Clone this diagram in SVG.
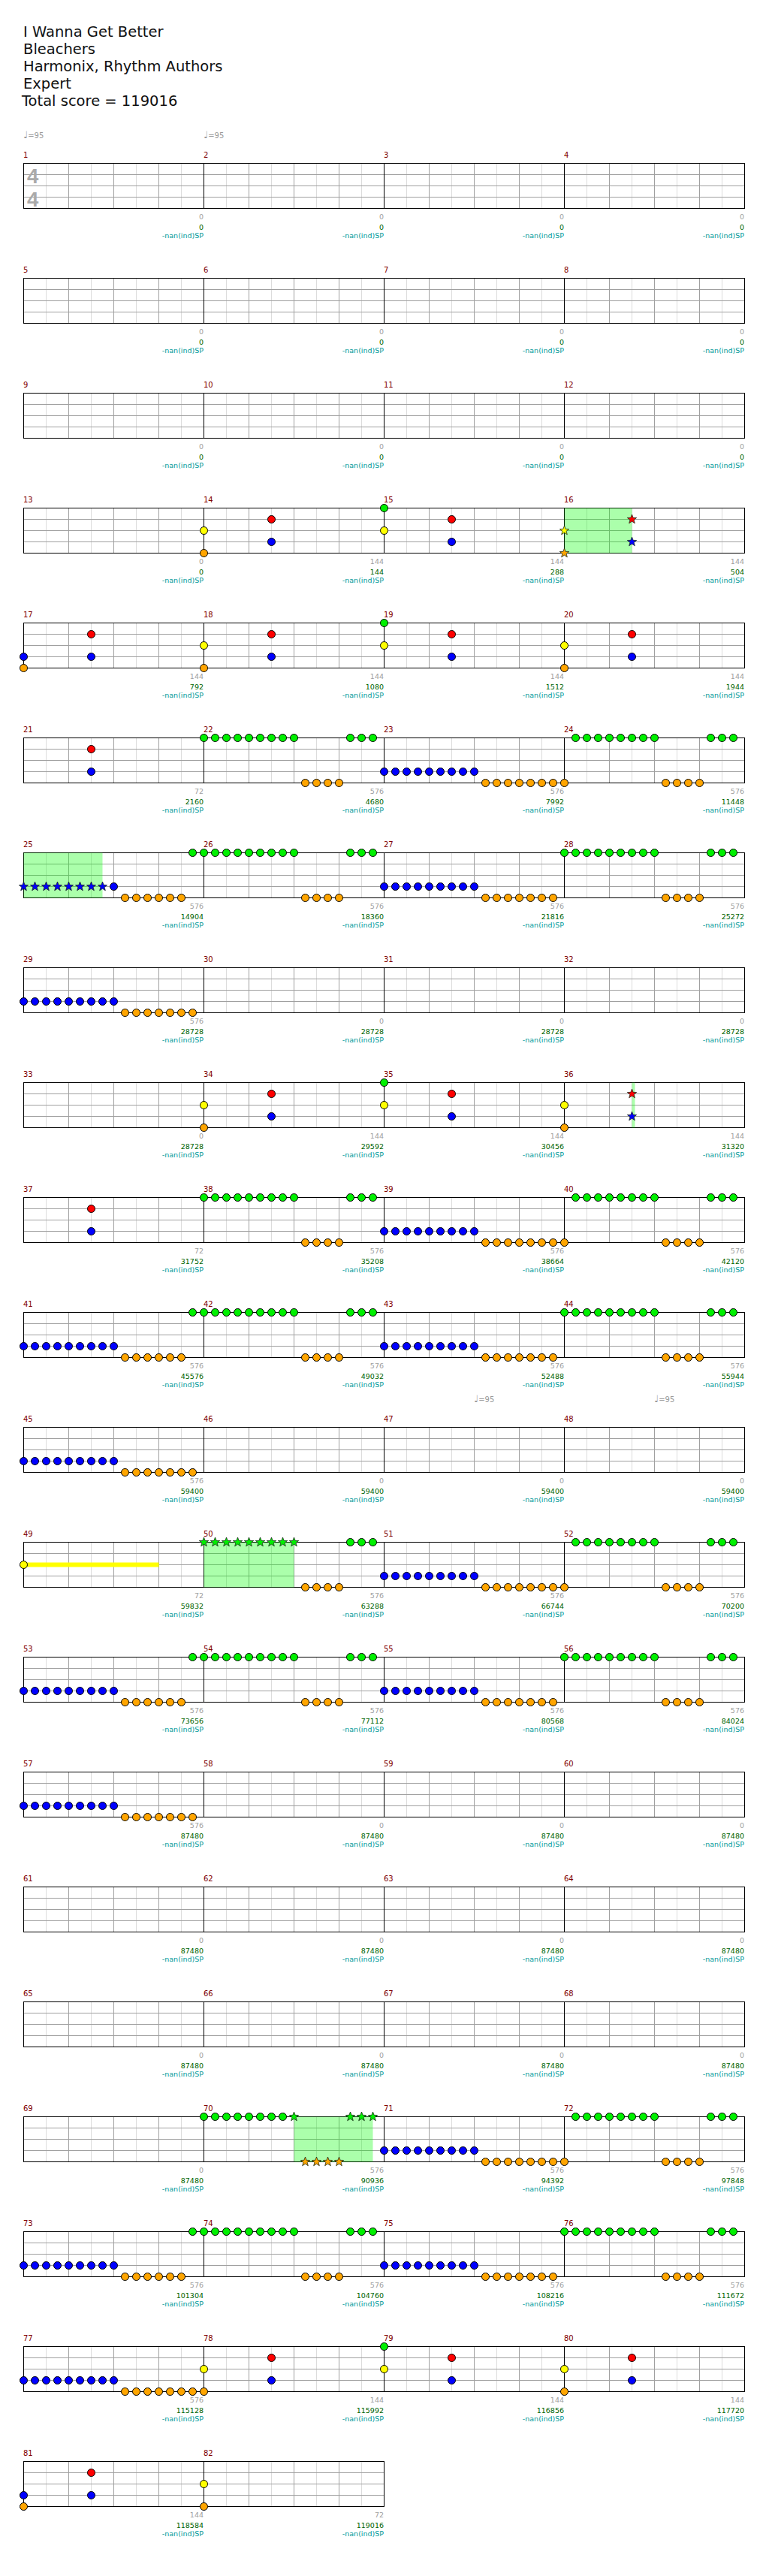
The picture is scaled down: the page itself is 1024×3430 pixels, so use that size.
<svg xmlns="http://www.w3.org/2000/svg" xmlns:xlink="http://www.w3.org/1999/xlink" width="1024" height="3430" viewBox="0 0 1024 3430">
<style>
text{font-family:"DejaVu Sans","Liberation Sans",sans-serif}
.t{font-size:19.5px;fill:#111}
.mn{font-size:10px;fill:#800000}
.a{font-size:9.5px;fill:#a0a0a0;text-anchor:end}
.b{font-size:9.5px;fill:#006400;text-anchor:end}
.c{font-size:9.5px;fill:#009a9a;text-anchor:end}
.tp{font-size:10px;fill:#999}
.ts{font-family:"Liberation Sans",Arial,sans-serif;font-size:27.5px;font-weight:bold;fill:#aaa}
.lt{stroke:#dcdcdc;stroke-width:1;fill:none}
.dk{stroke:#a0a0a0;stroke-width:1;fill:none}
.bk{stroke:#000;stroke-width:1;fill:none}
.sp{fill:#00ff00;fill-opacity:0.33}
.sus{fill:#ffff00}
.G{fill:#00f000}.R{fill:#ff0000}.Y{fill:#ffff00}.B{fill:#0000ff}.O{fill:#ffa500}
</style>
<defs>
<circle id="n" r="5" stroke="#000" stroke-width="1"/>
<path id="s" d="M0,-6.5L1.59,-2.18L6.18,-2.01L2.57,0.83L3.82,5.26L0,2.7L-3.82,5.26L-2.57,0.83L-6.18,-2.01L-1.59,-2.18Z" stroke="#1a2a1a" stroke-width="0.8"/>
<g id="row4">
<path class="lt" d="M61 0V60M121 0V60M181 0V60M241 0V60M301 0V60M361 0V60M421 0V60M481 0V60M541 0V60M601 0V60M661 0V60M721 0V60M781 0V60M841 0V60M901 0V60M961 0V60"/>
<path class="dk" d="M91 0V60M151 0V60M211 0V60M331 0V60M391 0V60M451 0V60M571 0V60M631 0V60M691 0V60M811 0V60M871 0V60M931 0V60M31 15H991M31 30H991M31 45H991"/>
<path class="bk" d="M271 0V60M511 0V60M751 0V60"/>
<rect class="bk" x="31" y="0" width="960" height="60"/>
</g>
<g id="row2">
<path class="lt" d="M61 0V60M121 0V60M181 0V60M241 0V60M301 0V60M361 0V60M421 0V60M481 0V60"/>
<path class="dk" d="M91 0V60M151 0V60M211 0V60M331 0V60M391 0V60M451 0V60M31 15H511M31 30H511M31 45H511"/>
<path class="bk" d="M271 0V60"/>
<rect class="bk" x="31" y="0" width="480" height="60"/>
</g>
<g id="pA">
<use href="#n" class="G" x="0"/><use href="#n" class="G" x="15"/><use href="#n" class="G" x="30"/><use href="#n" class="G" x="45"/><use href="#n" class="G" x="60"/><use href="#n" class="G" x="75"/><use href="#n" class="G" x="90"/><use href="#n" class="G" x="105"/><use href="#n" class="G" x="120"/>
<use href="#n" class="O" x="135" y="60"/><use href="#n" class="O" x="150" y="60"/><use href="#n" class="O" x="165" y="60"/><use href="#n" class="O" x="180" y="60"/>
<use href="#n" class="G" x="195"/><use href="#n" class="G" x="210"/><use href="#n" class="G" x="225"/>
</g>
<g id="pA2">
<use href="#n" class="O" x="0" y="60"/>
<use href="#n" class="G" x="15"/><use href="#n" class="G" x="30"/><use href="#n" class="G" x="45"/><use href="#n" class="G" x="60"/><use href="#n" class="G" x="75"/><use href="#n" class="G" x="90"/><use href="#n" class="G" x="105"/><use href="#n" class="G" x="120"/>
<use href="#n" class="O" x="135" y="60"/><use href="#n" class="O" x="150" y="60"/><use href="#n" class="O" x="165" y="60"/><use href="#n" class="O" x="180" y="60"/>
<use href="#n" class="G" x="195"/><use href="#n" class="G" x="210"/><use href="#n" class="G" x="225"/>
</g>
<g id="pB">
<use href="#n" class="B" x="0" y="45"/><use href="#n" class="B" x="15" y="45"/><use href="#n" class="B" x="30" y="45"/><use href="#n" class="B" x="45" y="45"/><use href="#n" class="B" x="60" y="45"/><use href="#n" class="B" x="75" y="45"/><use href="#n" class="B" x="90" y="45"/><use href="#n" class="B" x="105" y="45"/><use href="#n" class="B" x="120" y="45"/>
<use href="#n" class="O" x="135" y="60"/><use href="#n" class="O" x="150" y="60"/><use href="#n" class="O" x="165" y="60"/><use href="#n" class="O" x="180" y="60"/><use href="#n" class="O" x="195" y="60"/><use href="#n" class="O" x="210" y="60"/><use href="#n" class="O" x="225" y="60"/>
</g>
<g id="pB6">
<use href="#n" class="B" x="0" y="45"/><use href="#n" class="B" x="15" y="45"/><use href="#n" class="B" x="30" y="45"/><use href="#n" class="B" x="45" y="45"/><use href="#n" class="B" x="60" y="45"/><use href="#n" class="B" x="75" y="45"/><use href="#n" class="B" x="90" y="45"/><use href="#n" class="B" x="105" y="45"/><use href="#n" class="B" x="120" y="45"/>
<use href="#n" class="O" x="135" y="60"/><use href="#n" class="O" x="150" y="60"/><use href="#n" class="O" x="165" y="60"/><use href="#n" class="O" x="180" y="60"/><use href="#n" class="O" x="195" y="60"/><use href="#n" class="O" x="210" y="60"/>
<use href="#n" class="G" x="225" y="0"/>
</g>
<g id="pYO"><use href="#n" class="Y" y="30"/><use href="#n" class="O" y="60"/></g>
<g id="pGY"><use href="#n" class="G" y="0"/><use href="#n" class="Y" y="30"/></g>
<g id="pBO"><use href="#n" class="B" y="45"/><use href="#n" class="O" y="60"/></g>
<g id="pRB"><use href="#n" class="R" x="90" y="15"/><use href="#n" class="B" x="90" y="45"/></g>
</defs>
<rect width="1024" height="3430" fill="#fff"/>
<g id="header">
<text class="t" x="31" y="49">I Wanna Get Better</text>
<text class="t" x="31" y="72">Bleachers</text>
<text class="t" x="31" y="95">Harmonix, Rhythm Authors</text>
<text class="t" x="31" y="118">Expert</text>
<text class="t" x="29" y="141">Total score = 119016</text>
</g>

<g id="row-1" transform="translate(0,217)">
<g transform="translate(0.5,0.5)"><use href="#row4"/></g>
<text class="ts" x="36" y="27">4</text><text class="ts" x="36" y="58">4</text>
<text class="tp" x="31" y="-33"><tspan font-size="13">♩</tspan>=95</text>
<text class="tp" x="271" y="-33"><tspan font-size="13">♩</tspan>=95</text>
<text class="mn" x="31" y="-7">1</text><text class="mn" x="271" y="-7">2</text><text class="mn" x="511" y="-7">3</text><text class="mn" x="751" y="-7">4</text>
<text class="a" x="271" y="75">0</text><text class="b" x="271" y="88.5">0</text><text class="c" x="271" y="100">-nan(ind)SP</text>
<text class="a" x="511" y="75">0</text><text class="b" x="511" y="88.5">0</text><text class="c" x="511" y="100">-nan(ind)SP</text>
<text class="a" x="751" y="75">0</text><text class="b" x="751" y="88.5">0</text><text class="c" x="751" y="100">-nan(ind)SP</text>
<text class="a" x="991" y="75">0</text><text class="b" x="991" y="88.5">0</text><text class="c" x="991" y="100">-nan(ind)SP</text>
</g>

<g id="row-2" transform="translate(0,370)">
<g transform="translate(0.5,0.5)"><use href="#row4"/></g>
<text class="mn" x="31" y="-7">5</text><text class="mn" x="271" y="-7">6</text><text class="mn" x="511" y="-7">7</text><text class="mn" x="751" y="-7">8</text>
<text class="a" x="271" y="75">0</text><text class="b" x="271" y="88.5">0</text><text class="c" x="271" y="100">-nan(ind)SP</text>
<text class="a" x="511" y="75">0</text><text class="b" x="511" y="88.5">0</text><text class="c" x="511" y="100">-nan(ind)SP</text>
<text class="a" x="751" y="75">0</text><text class="b" x="751" y="88.5">0</text><text class="c" x="751" y="100">-nan(ind)SP</text>
<text class="a" x="991" y="75">0</text><text class="b" x="991" y="88.5">0</text><text class="c" x="991" y="100">-nan(ind)SP</text>
</g>

<g id="row-3" transform="translate(0,523)">
<g transform="translate(0.5,0.5)"><use href="#row4"/></g>
<text class="mn" x="31" y="-7">9</text><text class="mn" x="271" y="-7">10</text><text class="mn" x="511" y="-7">11</text><text class="mn" x="751" y="-7">12</text>
<text class="a" x="271" y="75">0</text><text class="b" x="271" y="88.5">0</text><text class="c" x="271" y="100">-nan(ind)SP</text>
<text class="a" x="511" y="75">0</text><text class="b" x="511" y="88.5">0</text><text class="c" x="511" y="100">-nan(ind)SP</text>
<text class="a" x="751" y="75">0</text><text class="b" x="751" y="88.5">0</text><text class="c" x="751" y="100">-nan(ind)SP</text>
<text class="a" x="991" y="75">0</text><text class="b" x="991" y="88.5">0</text><text class="c" x="991" y="100">-nan(ind)SP</text>
</g>

<g id="row-4" transform="translate(0,676)">
<g transform="translate(0.5,0.5)"><use href="#row4"/>
<rect class="sp" x="751" y="0" width="90" height="60"/>
<use href="#pYO" x="271"/><use href="#pRB" x="271"/>
<use href="#pGY" x="511"/><use href="#pRB" x="511"/>
<use href="#s" class="Y" x="751" y="30"/><use href="#s" class="O" x="751" y="60"/><use href="#s" class="R" x="841" y="15"/><use href="#s" class="B" x="841" y="45"/>
</g>
<text class="mn" x="31" y="-7">13</text><text class="mn" x="271" y="-7">14</text><text class="mn" x="511" y="-7">15</text><text class="mn" x="751" y="-7">16</text>
<text class="a" x="271" y="75">0</text><text class="b" x="271" y="88.5">0</text><text class="c" x="271" y="100">-nan(ind)SP</text>
<text class="a" x="511" y="75">144</text><text class="b" x="511" y="88.5">144</text><text class="c" x="511" y="100">-nan(ind)SP</text>
<text class="a" x="751" y="75">144</text><text class="b" x="751" y="88.5">288</text><text class="c" x="751" y="100">-nan(ind)SP</text>
<text class="a" x="991" y="75">144</text><text class="b" x="991" y="88.5">504</text><text class="c" x="991" y="100">-nan(ind)SP</text>
</g>

<g id="row-5" transform="translate(0,829)">
<g transform="translate(0.5,0.5)"><use href="#row4"/>
<use href="#pBO" x="31"/><use href="#pRB" x="31"/>
<use href="#pYO" x="271"/><use href="#pRB" x="271"/>
<use href="#pGY" x="511"/><use href="#pRB" x="511"/>
<use href="#pYO" x="751"/><use href="#pRB" x="751"/>
</g>
<text class="mn" x="31" y="-7">17</text><text class="mn" x="271" y="-7">18</text><text class="mn" x="511" y="-7">19</text><text class="mn" x="751" y="-7">20</text>
<text class="a" x="271" y="75">144</text><text class="b" x="271" y="88.5">792</text><text class="c" x="271" y="100">-nan(ind)SP</text>
<text class="a" x="511" y="75">144</text><text class="b" x="511" y="88.5">1080</text><text class="c" x="511" y="100">-nan(ind)SP</text>
<text class="a" x="751" y="75">144</text><text class="b" x="751" y="88.5">1512</text><text class="c" x="751" y="100">-nan(ind)SP</text>
<text class="a" x="991" y="75">144</text><text class="b" x="991" y="88.5">1944</text><text class="c" x="991" y="100">-nan(ind)SP</text>
</g>

<g id="row-6" transform="translate(0,982)">
<g transform="translate(0.5,0.5)"><use href="#row4"/>
<use href="#pRB" x="31"/>
<use href="#pA" x="271"/><use href="#pB" x="511"/><use href="#pA2" x="751"/>
</g>
<text class="mn" x="31" y="-7">21</text><text class="mn" x="271" y="-7">22</text><text class="mn" x="511" y="-7">23</text><text class="mn" x="751" y="-7">24</text>
<text class="a" x="271" y="75">72</text><text class="b" x="271" y="88.5">2160</text><text class="c" x="271" y="100">-nan(ind)SP</text>
<text class="a" x="511" y="75">576</text><text class="b" x="511" y="88.5">4680</text><text class="c" x="511" y="100">-nan(ind)SP</text>
<text class="a" x="751" y="75">576</text><text class="b" x="751" y="88.5">7992</text><text class="c" x="751" y="100">-nan(ind)SP</text>
<text class="a" x="991" y="75">576</text><text class="b" x="991" y="88.5">11448</text><text class="c" x="991" y="100">-nan(ind)SP</text>
</g>

<g id="row-7" transform="translate(0,1135)">
<g transform="translate(0.5,0.5)"><use href="#row4"/>
<rect class="sp" x="31" y="0" width="105" height="60"/>
<use href="#s" class="B" x="31" y="45"/><use href="#s" class="B" x="46" y="45"/><use href="#s" class="B" x="61" y="45"/><use href="#s" class="B" x="76" y="45"/><use href="#s" class="B" x="91" y="45"/><use href="#s" class="B" x="106" y="45"/><use href="#s" class="B" x="121" y="45"/><use href="#s" class="B" x="136" y="45"/>
<use href="#n" class="B" x="151" y="45"/>
<use href="#n" class="O" x="166" y="60"/><use href="#n" class="O" x="181" y="60"/><use href="#n" class="O" x="196" y="60"/><use href="#n" class="O" x="211" y="60"/><use href="#n" class="O" x="226" y="60"/><use href="#n" class="O" x="241" y="60"/>
<use href="#n" class="G" x="256" y="0"/>
<use href="#pA" x="271"/><use href="#pB" x="511"/><use href="#pA" x="751"/>
</g>
<text class="mn" x="31" y="-7">25</text><text class="mn" x="271" y="-7">26</text><text class="mn" x="511" y="-7">27</text><text class="mn" x="751" y="-7">28</text>
<text class="a" x="271" y="75">576</text><text class="b" x="271" y="88.5">14904</text><text class="c" x="271" y="100">-nan(ind)SP</text>
<text class="a" x="511" y="75">576</text><text class="b" x="511" y="88.5">18360</text><text class="c" x="511" y="100">-nan(ind)SP</text>
<text class="a" x="751" y="75">576</text><text class="b" x="751" y="88.5">21816</text><text class="c" x="751" y="100">-nan(ind)SP</text>
<text class="a" x="991" y="75">576</text><text class="b" x="991" y="88.5">25272</text><text class="c" x="991" y="100">-nan(ind)SP</text>
</g>

<g id="row-8" transform="translate(0,1288)">
<g transform="translate(0.5,0.5)"><use href="#row4"/>
<use href="#pB" x="31"/>
</g>
<text class="mn" x="31" y="-7">29</text><text class="mn" x="271" y="-7">30</text><text class="mn" x="511" y="-7">31</text><text class="mn" x="751" y="-7">32</text>
<text class="a" x="271" y="75">576</text><text class="b" x="271" y="88.5">28728</text><text class="c" x="271" y="100">-nan(ind)SP</text>
<text class="a" x="511" y="75">0</text><text class="b" x="511" y="88.5">28728</text><text class="c" x="511" y="100">-nan(ind)SP</text>
<text class="a" x="751" y="75">0</text><text class="b" x="751" y="88.5">28728</text><text class="c" x="751" y="100">-nan(ind)SP</text>
<text class="a" x="991" y="75">0</text><text class="b" x="991" y="88.5">28728</text><text class="c" x="991" y="100">-nan(ind)SP</text>
</g>

<g id="row-9" transform="translate(0,1441)">
<g transform="translate(0.5,0.5)"><use href="#row4"/>
<rect class="sp" x="841" y="0" width="4" height="60"/>
<use href="#pYO" x="271"/><use href="#pRB" x="271"/>
<use href="#pGY" x="511"/><use href="#pRB" x="511"/>
<use href="#pYO" x="751"/>
<use href="#s" class="R" x="841" y="15"/><use href="#s" class="B" x="841" y="45"/>
</g>
<text class="mn" x="31" y="-7">33</text><text class="mn" x="271" y="-7">34</text><text class="mn" x="511" y="-7">35</text><text class="mn" x="751" y="-7">36</text>
<text class="a" x="271" y="75">0</text><text class="b" x="271" y="88.5">28728</text><text class="c" x="271" y="100">-nan(ind)SP</text>
<text class="a" x="511" y="75">144</text><text class="b" x="511" y="88.5">29592</text><text class="c" x="511" y="100">-nan(ind)SP</text>
<text class="a" x="751" y="75">144</text><text class="b" x="751" y="88.5">30456</text><text class="c" x="751" y="100">-nan(ind)SP</text>
<text class="a" x="991" y="75">144</text><text class="b" x="991" y="88.5">31320</text><text class="c" x="991" y="100">-nan(ind)SP</text>
</g>

<g id="row-10" transform="translate(0,1594)">
<g transform="translate(0.5,0.5)"><use href="#row4"/>
<use href="#pRB" x="31"/>
<use href="#pA" x="271"/><use href="#pB" x="511"/><use href="#pA2" x="751"/>
</g>
<text class="mn" x="31" y="-7">37</text><text class="mn" x="271" y="-7">38</text><text class="mn" x="511" y="-7">39</text><text class="mn" x="751" y="-7">40</text>
<text class="a" x="271" y="75">72</text><text class="b" x="271" y="88.5">31752</text><text class="c" x="271" y="100">-nan(ind)SP</text>
<text class="a" x="511" y="75">576</text><text class="b" x="511" y="88.5">35208</text><text class="c" x="511" y="100">-nan(ind)SP</text>
<text class="a" x="751" y="75">576</text><text class="b" x="751" y="88.5">38664</text><text class="c" x="751" y="100">-nan(ind)SP</text>
<text class="a" x="991" y="75">576</text><text class="b" x="991" y="88.5">42120</text><text class="c" x="991" y="100">-nan(ind)SP</text>
</g>

<g id="row-11" transform="translate(0,1747)">
<g transform="translate(0.5,0.5)"><use href="#row4"/>
<use href="#pB6" x="31"/><use href="#pA" x="271"/><use href="#pB" x="511"/><use href="#pA" x="751"/>
</g>
<text class="mn" x="31" y="-7">41</text><text class="mn" x="271" y="-7">42</text><text class="mn" x="511" y="-7">43</text><text class="mn" x="751" y="-7">44</text>
<text class="a" x="271" y="75">576</text><text class="b" x="271" y="88.5">45576</text><text class="c" x="271" y="100">-nan(ind)SP</text>
<text class="a" x="511" y="75">576</text><text class="b" x="511" y="88.5">49032</text><text class="c" x="511" y="100">-nan(ind)SP</text>
<text class="a" x="751" y="75">576</text><text class="b" x="751" y="88.5">52488</text><text class="c" x="751" y="100">-nan(ind)SP</text>
<text class="a" x="991" y="75">576</text><text class="b" x="991" y="88.5">55944</text><text class="c" x="991" y="100">-nan(ind)SP</text>
</g>

<g id="row-12" transform="translate(0,1900)">
<g transform="translate(0.5,0.5)"><use href="#row4"/>
<use href="#pB" x="31"/>
</g>
<text class="tp" x="631" y="-33"><tspan font-size="13">♩</tspan>=95</text>
<text class="tp" x="871" y="-33"><tspan font-size="13">♩</tspan>=95</text>
<text class="mn" x="31" y="-7">45</text><text class="mn" x="271" y="-7">46</text><text class="mn" x="511" y="-7">47</text><text class="mn" x="751" y="-7">48</text>
<text class="a" x="271" y="75">576</text><text class="b" x="271" y="88.5">59400</text><text class="c" x="271" y="100">-nan(ind)SP</text>
<text class="a" x="511" y="75">0</text><text class="b" x="511" y="88.5">59400</text><text class="c" x="511" y="100">-nan(ind)SP</text>
<text class="a" x="751" y="75">0</text><text class="b" x="751" y="88.5">59400</text><text class="c" x="751" y="100">-nan(ind)SP</text>
<text class="a" x="991" y="75">0</text><text class="b" x="991" y="88.5">59400</text><text class="c" x="991" y="100">-nan(ind)SP</text>
</g>

<g id="row-13" transform="translate(0,2053)">
<g transform="translate(0.5,0.5)"><use href="#row4"/>
<rect class="sp" x="271" y="0" width="120" height="60"/>
<rect class="sus" x="31" y="27" width="180" height="6"/>
<use href="#n" class="Y" x="31" y="30"/>
<use href="#s" class="G" x="271"/><use href="#s" class="G" x="286"/><use href="#s" class="G" x="301"/><use href="#s" class="G" x="316"/><use href="#s" class="G" x="331"/><use href="#s" class="G" x="346"/><use href="#s" class="G" x="361"/><use href="#s" class="G" x="376"/><use href="#s" class="G" x="391"/>
<use href="#n" class="O" x="406" y="60"/><use href="#n" class="O" x="421" y="60"/><use href="#n" class="O" x="436" y="60"/><use href="#n" class="O" x="451" y="60"/>
<use href="#n" class="G" x="466"/><use href="#n" class="G" x="481"/><use href="#n" class="G" x="496"/>
<use href="#pB" x="511"/><use href="#pA2" x="751"/>
</g>
<text class="mn" x="31" y="-7">49</text><text class="mn" x="271" y="-7">50</text><text class="mn" x="511" y="-7">51</text><text class="mn" x="751" y="-7">52</text>
<text class="a" x="271" y="75">72</text><text class="b" x="271" y="88.5">59832</text><text class="c" x="271" y="100">-nan(ind)SP</text>
<text class="a" x="511" y="75">576</text><text class="b" x="511" y="88.5">63288</text><text class="c" x="511" y="100">-nan(ind)SP</text>
<text class="a" x="751" y="75">576</text><text class="b" x="751" y="88.5">66744</text><text class="c" x="751" y="100">-nan(ind)SP</text>
<text class="a" x="991" y="75">576</text><text class="b" x="991" y="88.5">70200</text><text class="c" x="991" y="100">-nan(ind)SP</text>
</g>

<g id="row-14" transform="translate(0,2206)">
<g transform="translate(0.5,0.5)"><use href="#row4"/>
<use href="#pB6" x="31"/><use href="#pA" x="271"/><use href="#pB" x="511"/><use href="#pA" x="751"/>
</g>
<text class="mn" x="31" y="-7">53</text><text class="mn" x="271" y="-7">54</text><text class="mn" x="511" y="-7">55</text><text class="mn" x="751" y="-7">56</text>
<text class="a" x="271" y="75">576</text><text class="b" x="271" y="88.5">73656</text><text class="c" x="271" y="100">-nan(ind)SP</text>
<text class="a" x="511" y="75">576</text><text class="b" x="511" y="88.5">77112</text><text class="c" x="511" y="100">-nan(ind)SP</text>
<text class="a" x="751" y="75">576</text><text class="b" x="751" y="88.5">80568</text><text class="c" x="751" y="100">-nan(ind)SP</text>
<text class="a" x="991" y="75">576</text><text class="b" x="991" y="88.5">84024</text><text class="c" x="991" y="100">-nan(ind)SP</text>
</g>

<g id="row-15" transform="translate(0,2359)">
<g transform="translate(0.5,0.5)"><use href="#row4"/>
<use href="#pB" x="31"/>
</g>
<text class="mn" x="31" y="-7">57</text><text class="mn" x="271" y="-7">58</text><text class="mn" x="511" y="-7">59</text><text class="mn" x="751" y="-7">60</text>
<text class="a" x="271" y="75">576</text><text class="b" x="271" y="88.5">87480</text><text class="c" x="271" y="100">-nan(ind)SP</text>
<text class="a" x="511" y="75">0</text><text class="b" x="511" y="88.5">87480</text><text class="c" x="511" y="100">-nan(ind)SP</text>
<text class="a" x="751" y="75">0</text><text class="b" x="751" y="88.5">87480</text><text class="c" x="751" y="100">-nan(ind)SP</text>
<text class="a" x="991" y="75">0</text><text class="b" x="991" y="88.5">87480</text><text class="c" x="991" y="100">-nan(ind)SP</text>
</g>

<g id="row-16" transform="translate(0,2512)">
<g transform="translate(0.5,0.5)"><use href="#row4"/></g>
<text class="mn" x="31" y="-7">61</text><text class="mn" x="271" y="-7">62</text><text class="mn" x="511" y="-7">63</text><text class="mn" x="751" y="-7">64</text>
<text class="a" x="271" y="75">0</text><text class="b" x="271" y="88.5">87480</text><text class="c" x="271" y="100">-nan(ind)SP</text>
<text class="a" x="511" y="75">0</text><text class="b" x="511" y="88.5">87480</text><text class="c" x="511" y="100">-nan(ind)SP</text>
<text class="a" x="751" y="75">0</text><text class="b" x="751" y="88.5">87480</text><text class="c" x="751" y="100">-nan(ind)SP</text>
<text class="a" x="991" y="75">0</text><text class="b" x="991" y="88.5">87480</text><text class="c" x="991" y="100">-nan(ind)SP</text>
</g>

<g id="row-17" transform="translate(0,2665)">
<g transform="translate(0.5,0.5)"><use href="#row4"/></g>
<text class="mn" x="31" y="-7">65</text><text class="mn" x="271" y="-7">66</text><text class="mn" x="511" y="-7">67</text><text class="mn" x="751" y="-7">68</text>
<text class="a" x="271" y="75">0</text><text class="b" x="271" y="88.5">87480</text><text class="c" x="271" y="100">-nan(ind)SP</text>
<text class="a" x="511" y="75">0</text><text class="b" x="511" y="88.5">87480</text><text class="c" x="511" y="100">-nan(ind)SP</text>
<text class="a" x="751" y="75">0</text><text class="b" x="751" y="88.5">87480</text><text class="c" x="751" y="100">-nan(ind)SP</text>
<text class="a" x="991" y="75">0</text><text class="b" x="991" y="88.5">87480</text><text class="c" x="991" y="100">-nan(ind)SP</text>
</g>

<g id="row-18" transform="translate(0,2818)">
<g transform="translate(0.5,0.5)"><use href="#row4"/>
<rect class="sp" x="391" y="0" width="105" height="60"/>
<use href="#n" class="G" x="271"/><use href="#n" class="G" x="286"/><use href="#n" class="G" x="301"/><use href="#n" class="G" x="316"/><use href="#n" class="G" x="331"/><use href="#n" class="G" x="346"/><use href="#n" class="G" x="361"/><use href="#n" class="G" x="376"/>
<use href="#s" class="G" x="391"/>
<use href="#s" class="O" x="406" y="60"/><use href="#s" class="O" x="421" y="60"/><use href="#s" class="O" x="436" y="60"/><use href="#s" class="O" x="451" y="60"/>
<use href="#s" class="G" x="466"/><use href="#s" class="G" x="481"/><use href="#s" class="G" x="496"/>
<use href="#pB" x="511"/><use href="#pA2" x="751"/>
</g>
<text class="mn" x="31" y="-7">69</text><text class="mn" x="271" y="-7">70</text><text class="mn" x="511" y="-7">71</text><text class="mn" x="751" y="-7">72</text>
<text class="a" x="271" y="75">0</text><text class="b" x="271" y="88.5">87480</text><text class="c" x="271" y="100">-nan(ind)SP</text>
<text class="a" x="511" y="75">576</text><text class="b" x="511" y="88.5">90936</text><text class="c" x="511" y="100">-nan(ind)SP</text>
<text class="a" x="751" y="75">576</text><text class="b" x="751" y="88.5">94392</text><text class="c" x="751" y="100">-nan(ind)SP</text>
<text class="a" x="991" y="75">576</text><text class="b" x="991" y="88.5">97848</text><text class="c" x="991" y="100">-nan(ind)SP</text>
</g>

<g id="row-19" transform="translate(0,2971)">
<g transform="translate(0.5,0.5)"><use href="#row4"/>
<use href="#pB6" x="31"/><use href="#pA" x="271"/><use href="#pB" x="511"/><use href="#pA" x="751"/>
</g>
<text class="mn" x="31" y="-7">73</text><text class="mn" x="271" y="-7">74</text><text class="mn" x="511" y="-7">75</text><text class="mn" x="751" y="-7">76</text>
<text class="a" x="271" y="75">576</text><text class="b" x="271" y="88.5">101304</text><text class="c" x="271" y="100">-nan(ind)SP</text>
<text class="a" x="511" y="75">576</text><text class="b" x="511" y="88.5">104760</text><text class="c" x="511" y="100">-nan(ind)SP</text>
<text class="a" x="751" y="75">576</text><text class="b" x="751" y="88.5">108216</text><text class="c" x="751" y="100">-nan(ind)SP</text>
<text class="a" x="991" y="75">576</text><text class="b" x="991" y="88.5">111672</text><text class="c" x="991" y="100">-nan(ind)SP</text>
</g>

<g id="row-20" transform="translate(0,3124)">
<g transform="translate(0.5,0.5)"><use href="#row4"/>
<use href="#pB" x="31"/>
<use href="#pYO" x="271"/><use href="#pRB" x="271"/>
<use href="#pGY" x="511"/><use href="#pRB" x="511"/>
<use href="#pYO" x="751"/><use href="#pRB" x="751"/>
</g>
<text class="mn" x="31" y="-7">77</text><text class="mn" x="271" y="-7">78</text><text class="mn" x="511" y="-7">79</text><text class="mn" x="751" y="-7">80</text>
<text class="a" x="271" y="75">576</text><text class="b" x="271" y="88.5">115128</text><text class="c" x="271" y="100">-nan(ind)SP</text>
<text class="a" x="511" y="75">144</text><text class="b" x="511" y="88.5">115992</text><text class="c" x="511" y="100">-nan(ind)SP</text>
<text class="a" x="751" y="75">144</text><text class="b" x="751" y="88.5">116856</text><text class="c" x="751" y="100">-nan(ind)SP</text>
<text class="a" x="991" y="75">144</text><text class="b" x="991" y="88.5">117720</text><text class="c" x="991" y="100">-nan(ind)SP</text>
</g>

<g id="row-21" transform="translate(0,3277)">
<g transform="translate(0.5,0.5)"><use href="#row2"/>
<use href="#pBO" x="31"/><use href="#pRB" x="31"/>
<use href="#pYO" x="271"/>
</g>
<text class="mn" x="31" y="-7">81</text><text class="mn" x="271" y="-7">82</text>
<text class="a" x="271" y="75">144</text><text class="b" x="271" y="88.5">118584</text><text class="c" x="271" y="100">-nan(ind)SP</text>
<text class="a" x="511" y="75">72</text><text class="b" x="511" y="88.5">119016</text><text class="c" x="511" y="100">-nan(ind)SP</text>
</g>
</svg>
